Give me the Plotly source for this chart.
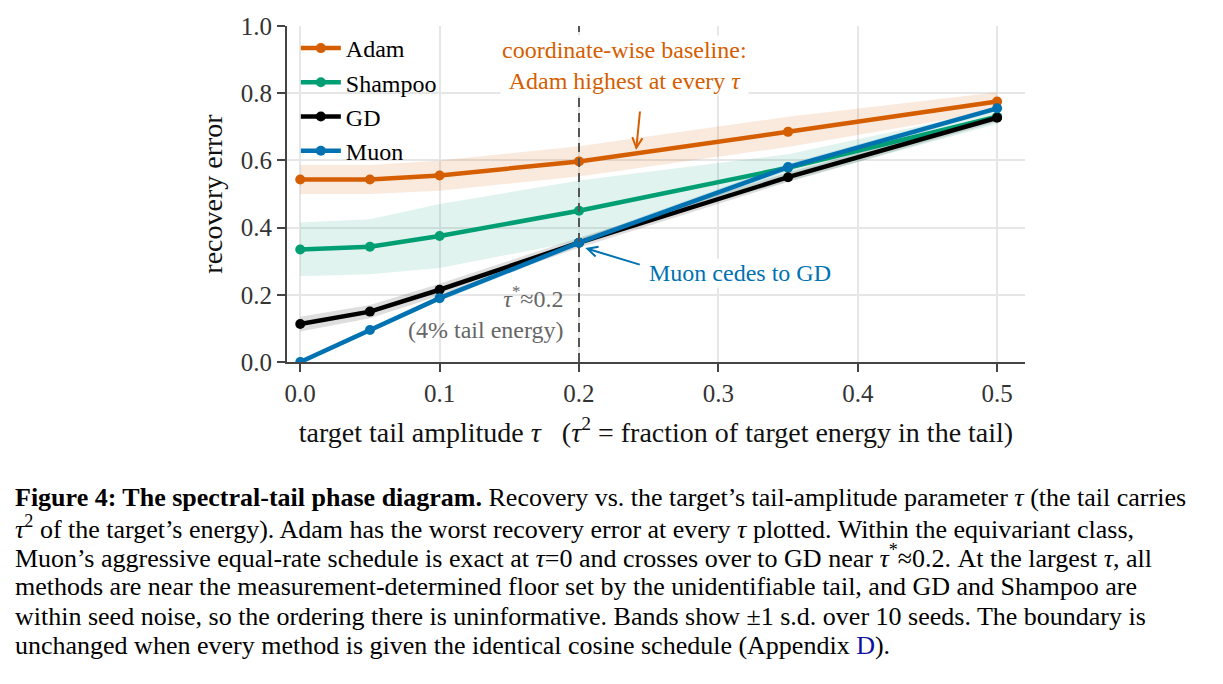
import plotly.graph_objects as go

# tail amplitude tau
tau = [0.0, 0.05, 0.1, 0.2, 0.35, 0.5]

# mean recovery error per method
adam = [0.543, 0.543, 0.555, 0.597, 0.685, 0.775]
shampoo = [0.335, 0.343, 0.375, 0.450, 0.578, 0.730]
gd = [0.113, 0.150, 0.215, 0.355, 0.550, 0.727]
muon = [0.000, 0.095, 0.190, 0.355, 0.580, 0.755]

# +-1 s.d. over 10 seeds
adam_sd = [0.043, 0.043, 0.045, 0.045, 0.045, 0.028]
shampoo_sd = [0.080, 0.082, 0.095, 0.090, 0.040, 0.022]
gd_sd = [0.022, 0.020, 0.018, 0.015, 0.014, 0.012]
muon_sd = [0.004, 0.006, 0.008, 0.010, 0.010, 0.008]

methods = ["Adam", "Shampoo", "GD", "Muon"]
means = [adam, shampoo, gd, muon]
sds = [adam_sd, shampoo_sd, gd_sd, muon_sd]
colors = ["#D55E00", "#009E73", "#000000", "#0072B2"]
bands = ["rgba(213,94,0,0.13)", "rgba(0,158,115,0.12)",
         "rgba(0,0,0,0.13)", "rgba(0,114,178,0.13)"]

SERIF = "Liberation Serif"

# page body has an 8px margin, so the figure is 8px smaller and everything
# below is laid out in screen pixels minus that offset
W, H = 1215, 676
L, T, PW, PH = 279, 18, 738, 336

fig = go.Figure()

# bands first
for m, s, b in zip(means, sds, bands):
    up = [v + e for v, e in zip(m, s)]
    lo = [v - e for v, e in zip(m, s)]
    fig.add_trace(go.Scatter(x=tau + tau[::-1], y=up + lo[::-1], fill="toself",
                             fillcolor=b, line=dict(width=0), mode="lines",
                             hoverinfo="skip", showlegend=False))

for name, m, c in zip(methods, means, colors):
    fig.add_trace(go.Scatter(x=tau, y=m, name=name, mode="lines+markers",
                             line=dict(color=c, width=4.5),
                             marker=dict(color=c, size=10)))

# tau* boundary
fig.add_vline(x=0.2, line=dict(color="#555555", width=2, dash="9px,6px"))

fig.add_annotation(x=0.233, y=0.881, xref="x", yref="y",
                   text="coordinate-wise baseline:<br>Adam highest at every <i>τ</i>",
                   showarrow=False, font=dict(family=SERIF, size=24, color="#D55E00"),
                   align="center", bgcolor="white")
fig.add_annotation(x=0.241, y=0.631, xref="x", yref="y", text="",
                   showarrow=True, arrowhead=5, arrowsize=1, arrowwidth=2,
                   arrowcolor="#D55E00", ax=4, ay=-40)

fig.add_annotation(x=0.2045, y=0.339, xref="x", yref="y", text="",
                   showarrow=True, arrowhead=5, arrowsize=1, arrowwidth=2,
                   arrowcolor="#0072B2", ax=56, ay=17)
fig.add_annotation(x=0.3156, y=0.265, xref="x", yref="y", text="Muon cedes to GD",
                   showarrow=False, bgcolor="white",
                   font=dict(family=SERIF, size=24, color="#0072B2"))

fig.add_annotation(x=0.191, y=0.147, xref="x", yref="y",
                   text="<i>τ</i><sup>*</sup>≈0.2<br>(4% tail energy)",
                   showarrow=False, xanchor="right", align="right",
                   font=dict(family=SERIF, size=24, color="#666666"))

# caption below the axes
caption = [
    "<b>Figure 4: The spectral-tail phase diagram.</b> Recovery vs. the target’s tail-amplitude parameter <i>τ</i> (the tail carries",
    "<i>τ</i><sup>2</sup> of the target’s energy). Adam has the worst recovery error at every <i>τ</i> plotted. Within the equivariant class,",
    "Muon’s aggressive equal-rate schedule is exact at <i>τ</i>=0 and crosses over to GD near <i>τ</i><sup>*</sup>≈0.2. At the largest <i>τ</i>, all",
    "methods are near the measurement-determined floor set by the unidentifiable tail, and GD and Shampoo are",
    "within seed noise, so the ordering there is uninformative. Bands show ±1 s.d. over 10 seeds. The boundary is",
    "unchanged when every method is given the identical cosine schedule (Appendix <span style='color:#1010A0'>D</span>).",
]
line_px = [497, 527, 556, 586, 616, 645]
for t, py in zip(caption, line_px):
    fig.add_annotation(x=(13 - 287) / PW, y=(362 - py) / PH, xref="paper", yref="paper",
                       text=t, showarrow=False, xanchor="left", yanchor="middle",
                       align="left", font=dict(family=SERIF, size=26, color="black"))

fig.update_layout(
    width=W, height=H,
    margin=dict(l=L, r=W - L - PW, t=T, b=H - T - PH, autoexpand=False),
    paper_bgcolor="white", plot_bgcolor="white",
    font=dict(family=SERIF, size=25, color="#222222"),
    legend=dict(x=0.012, y=1.0, xanchor="left", yanchor="top",
                bgcolor="rgba(255,255,255,0)",
                font=dict(family=SERIF, size=24, color="black"),
                tracegroupgap=0, itemwidth=40),
    showlegend=True,
)
fig.update_xaxes(range=[-0.0095, 0.52], tickvals=[0, 0.1, 0.2, 0.3, 0.4, 0.5],
                 ticktext=["0.0", "0.1", "0.2", "0.3", "0.4", "0.5"],
                 showgrid=True, gridcolor="#e6e6e6", gridwidth=1.5, zeroline=False,
                 showline=True, linecolor="#444444", linewidth=2,
                 ticks="outside", ticklen=8, tickwidth=2, tickcolor="#444444",
                 tickfont=dict(color="#333333"),
                 title=dict(text="target tail amplitude <i>τ</i>   (<i>τ</i><sup>2</sup> = fraction of target energy in the tail)",
                            font=dict(size=28, color="#111111"), standoff=16))
fig.update_yaxes(range=[0, 1.0], tickvals=[0, 0.2, 0.4, 0.6, 0.8, 1.0],
                 ticktext=["0.0", "0.2", "0.4", "0.6", "0.8", "1.0"],
                 showgrid=True, gridcolor="#e6e6e6", gridwidth=1.5, zeroline=False,
                 showline=True, linecolor="#444444", linewidth=2,
                 ticks="outside", ticklen=8, tickwidth=2, tickcolor="#444444",
                 tickfont=dict(color="#333333"),
                 title=dict(text="recovery error", font=dict(size=28, color="#111111"),
                            standoff=10))

fig.write_html("out.html")
